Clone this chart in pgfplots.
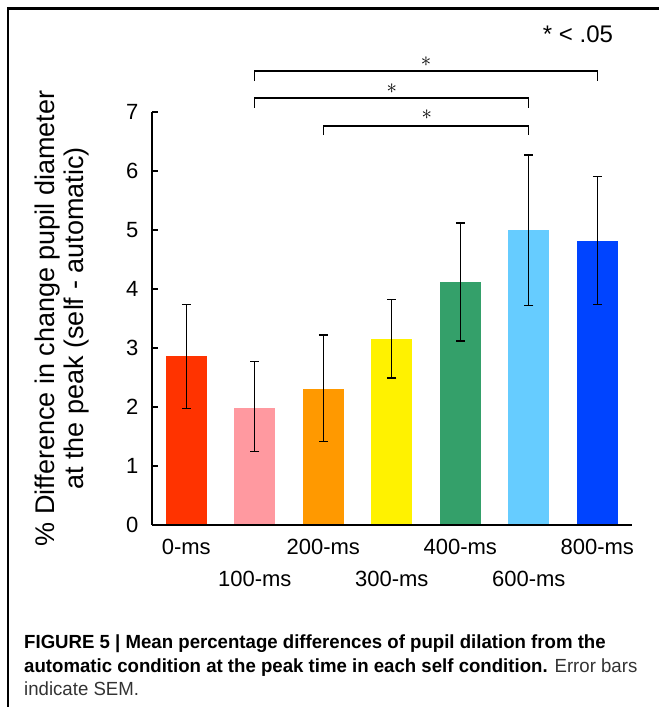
\documentclass[border=0pt]{standalone}
\usepackage{fontspec}
\setmainfont{Liberation Sans}
\newfontfamily\capfont[FakeStretch=0.98]{Liberation Sans}
\usepackage{pgfplots}
\pgfplotsset{compat=1.18}
\definecolor{c0}{HTML}{FF3300}
\definecolor{c1}{HTML}{FF99A0}
\definecolor{c2}{HTML}{FF9900}
\definecolor{c3}{HTML}{FFF200}
\definecolor{c4}{HTML}{34A06A}
\definecolor{c5}{HTML}{66CCFF}
\definecolor{c6}{HTML}{0044FF}
\definecolor{captxt}{HTML}{333333}
\pgfplotsset{
  mybar/.style={ybar, bar width=41pt, bar shift=0pt, draw=none, fill=#1,
    error bars/.cd, y dir=both, y explicit,
    error bar style={line width=1.2pt, black},
    error mark options={rotate=90, mark size=4.5pt, line width=1.2pt, black}},
}
\begin{document}
\begin{tikzpicture}
\useasboundingbox (0pt,0pt) rectangle (659pt,707pt);
\draw[line width=2.7pt, line join=miter] (8pt,0pt) -- (8pt,698.3pt) -- (659pt,698.3pt);
\begin{axis}[
  at={(152pt,182pt)}, anchor=south west,
  scale only axis, width=479.5pt, height=413pt,
  xmin=-0.5, xmax=6.5, ymin=0, ymax=7,
  axis x line*=bottom, axis y line*=left,
  axis line style={line width=1.3pt},
  axis on top,
  clip=false,
  /pgf/number format/assume math mode=true,
  ytick={0,1,2,3,4,5,6,7},
  tick align=inside, major tick length=6pt,
  ytick style={line width=1.3pt, black},
  xtick={0,2,4,6},
  xticklabels={0-ms,200-ms,400-ms,800-ms},
  xtick style={draw=none},
  extra x ticks={1,3,5},
  extra x tick labels={100-ms,300-ms,600-ms},
  extra x tick style={major tick length=0pt, xticklabel style={yshift=-32pt}},
  xticklabel style={yshift=-11pt},
  yticklabel style={xshift=-10pt},
  tick label style={font=\fontsize{22}{26}\selectfont},
  ylabel={\% Difference in change pupil diameter\\at the peak (self - automatic)},
  ylabel style={at={(axis description cs:-0.187,0.5)}, anchor=center, align=center,
    font=\fontsize{27}{29}\selectfont},
]
\addplot[mybar=c0] coordinates {(0,2.87) += (0,0.87) -= (0,0.89)};
\addplot[mybar=c1] coordinates {(1,1.99) += (0,0.78) -= (0,0.74)};
\addplot[mybar=c2] coordinates {(2,2.31) += (0,0.91) -= (0,0.89)};
\addplot[mybar=c3] coordinates {(3,3.15) += (0,0.67) -= (0,0.66)};
\addplot[mybar=c4] coordinates {(4,4.12) += (0,1.00) -= (0,1.00)};
\addplot[mybar=c5] coordinates {(5,5.00) += (0,1.27) -= (0,1.28)};
\addplot[mybar=c6] coordinates {(6,4.82) += (0,1.08) -= (0,1.08)};
% significance brackets
\draw[line width=1.2pt] (axis cs:1,7.525) -- (axis cs:1,7.695) -- (axis cs:6,7.695) -- (axis cs:6,7.525);
\draw[line width=1.2pt] (axis cs:1,7.068) -- (axis cs:1,7.237) -- (axis cs:5,7.237) -- (axis cs:5,7.068);
\draw[line width=1.2pt] (axis cs:2,6.61) -- (axis cs:2,6.763) -- (axis cs:5,6.763) -- (axis cs:5,6.61);
\node[inner sep=0] at (axis cs:3.50,7.85) {\fontsize{20}{20}\selectfont$\ast$};
\node[inner sep=0] at (axis cs:3.0,7.39) {\fontsize{20}{20}\selectfont$\ast$};
\node[inner sep=0] at (axis cs:3.51,6.95) {\fontsize{20}{20}\selectfont$\ast$};
\end{axis}
\node[anchor=base, inner sep=0] at (578pt,664pt) {\fontsize{24}{28}\selectfont * < .05};
\node[anchor=base west, inner sep=0] at (24pt,58pt) {\capfont\bfseries\fontsize{19}{22}\selectfont FIGURE 5 | Mean percentage differences of pupil dilation from the};
\node[anchor=base west, inner sep=0] at (24pt,34.5pt) {\capfont\fontsize{19}{22}\selectfont\textbf{automatic condition at the peak time in each self condition.} \textcolor{captxt}{Error bars}};
\node[anchor=base west, inner sep=0] at (24pt,11pt) {\capfont\fontsize{19}{22}\selectfont\textcolor{captxt}{indicate SEM.}};
\end{tikzpicture}
\end{document}
